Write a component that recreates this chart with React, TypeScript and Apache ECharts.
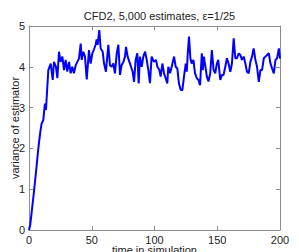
import React, { useEffect, useRef } from "react";
import * as echarts from "echarts";

const titleText = "CFD2, 5,000 estimates, \u03b5=1/25";
const xName = "time in simulation";
const yName = "variance of estimator";

const times = [
  0, 1, 2, 3, 4, 5, 6, 7, 8, 9, 10, 11.4, 12.7, 13.5, 15.4, 17.3, 18.9, 19.9, 21.5, 22.6,
  23.9, 25.2, 26.6, 27.9, 29.2, 30.5, 31.9, 33.2, 34.5, 35.8, 37.2, 38.5, 39.8, 41.2, 42, 43.3,
  44.6, 46, 47.8, 49.1, 50.5, 51.8, 53.1, 53.9, 54.7, 56, 57.1, 58.7, 59.8, 61.3, 63.2, 64.5,
  65.9, 67.2, 68.5, 69.9, 71.2, 72.5, 73.8, 75.2, 76.5, 77.3, 78.6, 80, 81.3, 82.6, 83.7, 85,
  86.3, 87.4, 88.4, 89.8, 91.1, 92.5, 93.8, 95.1, 96.4, 97.7, 99.6, 101.2, 102.3, 103.9, 104.9,
  106.3, 107.6, 108.9, 110.2, 111, 112.4, 113.7, 115.6, 116.9, 118.2, 119.5, 120.9, 122.2,
  123.5, 124.9, 125.7, 126.5, 127.5, 128.6, 129.6, 131, 132.3, 133.7, 135, 136.3, 137.7, 138.5,
  139.3, 140.4, 141.7, 143, 144.4, 145.7, 147.1, 148.4, 149.7, 150.8, 152.4, 153.7, 155, 156.4,
  157.7, 159, 160.4, 161.7, 163.1, 164.4, 165.7, 167.1, 168.4, 169.7, 171.1, 172.4, 173.7,
  175.1, 176.4, 177.7, 179, 180.4, 181.7, 183.1, 184.4, 185.7, 187.1, 188.4, 189.7, 191.1,
  192.4, 193.7, 195.1, 196.4, 197.7, 199.1, 200,
];

const variance = [
  0, 0.13, 0.4, 0.68, 0.95, 1.25, 1.55, 1.87, 2.15, 2.4, 2.6, 2.7, 3.1, 2.94, 3.92, 4.08, 3.68, 4.12, 4.0, 3.72,
  4.37, 4.12, 4.25, 3.92, 4.17, 3.88, 4.12, 3.84, 4.0, 3.84, 4.04, 4.12, 4.2, 4.57, 4.17, 4.37,
  4.25, 3.69, 4.41, 4.08, 4.33, 4.43, 4.54, 4.67, 4.54, 4.9, 4.45, 4.37, 4.08, 3.88, 4.54, 4.04,
  4.0, 4.08, 3.84, 4.33, 4.54, 3.8, 4.04, 4.12, 4.25, 4.49, 4.25, 4.12, 4.0, 3.88, 3.63, 4.17,
  4.33, 3.59, 4.25, 4.0, 4.25, 4.37, 4.17, 3.92, 3.6, 4.25, 4.12, 4.17, 4.0, 3.92, 3.76,
  4.08, 3.84, 3.72, 3.59, 4.0, 3.84, 4.0, 4.25, 4.0, 3.96, 3.59, 3.43, 3.43,
  3.76, 4.08, 3.88, 4.33, 4.74, 4.21, 4.08, 4.17, 3.84, 3.72, 3.68, 3.55, 4.33, 3.92,
  4.25, 4.04, 3.76, 3.64, 3.84, 4.41, 3.92, 3.84, 4.08, 4.17, 3.68, 3.8, 3.8, 4.0,
  4.21, 4.08, 3.88, 4.08, 4.7, 4.21, 4.21, 4.33, 4.29, 4.17, 4.25, 4.08, 3.88,
  3.84, 4.12, 4.25, 4.45, 4.17, 4.0, 3.63, 3.92, 3.92, 4.21, 4.25, 4.29, 4.33,
  4.08, 3.96, 3.84, 4.17, 4.21, 4.45, 4.2,
];

const xTicks = [0, 50, 100, 150, 200];
const yTicks = [0, 1, 2, 3, 4, 5];

export default function App() {
  const ref = useRef<HTMLDivElement>(null);
  useEffect(() => {
    if (!ref.current) return;
    const chart = echarts.init(ref.current, null, { renderer: "svg" });
    const font = "Liberation Sans, Arial, Helvetica, sans-serif";
    const axisGrey = "#8c8c8c";
    const textColor = "#222";
    const baseX = {
      type: "value" as const,
      min: xTicks[0],
      max: xTicks[xTicks.length - 1],
      interval: 50,
      splitLine: { show: false },
      axisLine: { show: true, onZero: false, lineStyle: { color: axisGrey, width: 1 } },
      axisTick: { show: true, inside: true, length: 4, lineStyle: { color: axisGrey } },
    };
    const baseY = {
      type: "value" as const,
      min: yTicks[0],
      max: yTicks[yTicks.length - 1],
      interval: 1,
      splitLine: { show: false },
      axisLine: { show: true, onZero: false, lineStyle: { color: axisGrey, width: 1 } },
      axisTick: { show: true, inside: true, length: 4, lineStyle: { color: axisGrey } },
    };
    chart.setOption({
      animation: false,
      backgroundColor: "#fff",
      title: {
        text: titleText,
        left: 154.5,
        top: 5,
        textAlign: "center",
        textStyle: { fontFamily: font, fontSize: 11, fontWeight: "normal", color: textColor },
      },
      grid: { left: 29, right: 19, top: 26, bottom: 22, containLabel: false, outerBoundsMode: "none" },
      xAxis: [
        {
          ...baseX,
          position: "bottom",
          name: xName,
          nameLocation: "middle",
          nameGap: 14.5,
          nameMoveOverlap: false,
          nameTextStyle: { fontFamily: font, fontSize: 11, color: textColor },
          axisLabel: { margin: 4, fontFamily: font, fontSize: 11, color: textColor },
        },
        { ...baseX, position: "top", axisLabel: { show: false } },
      ],
      yAxis: [
        {
          ...baseY,
          position: "left",
          name: yName,
          nameLocation: "middle",
          nameGap: 9,
          nameMoveOverlap: false,
          nameTextStyle: { fontFamily: font, fontSize: 11, color: textColor },
          axisLabel: { margin: 4, fontFamily: font, fontSize: 11, color: textColor },
        },
        { ...baseY, position: "right", axisLabel: { show: false } },
      ],
      series: [
        {
          type: "line",
          data: times.map((t, i) => [t, variance[i]]),
          showSymbol: false,
          symbol: "none",
          lineStyle: { color: "#0000ff", width: 2 },
        },
      ],
    });
    return () => chart.dispose();
  }, []);
  return <div ref={ref} style={{ width: 299, height: 252, position: "absolute", left: 0, top: 0 }} />;
}
